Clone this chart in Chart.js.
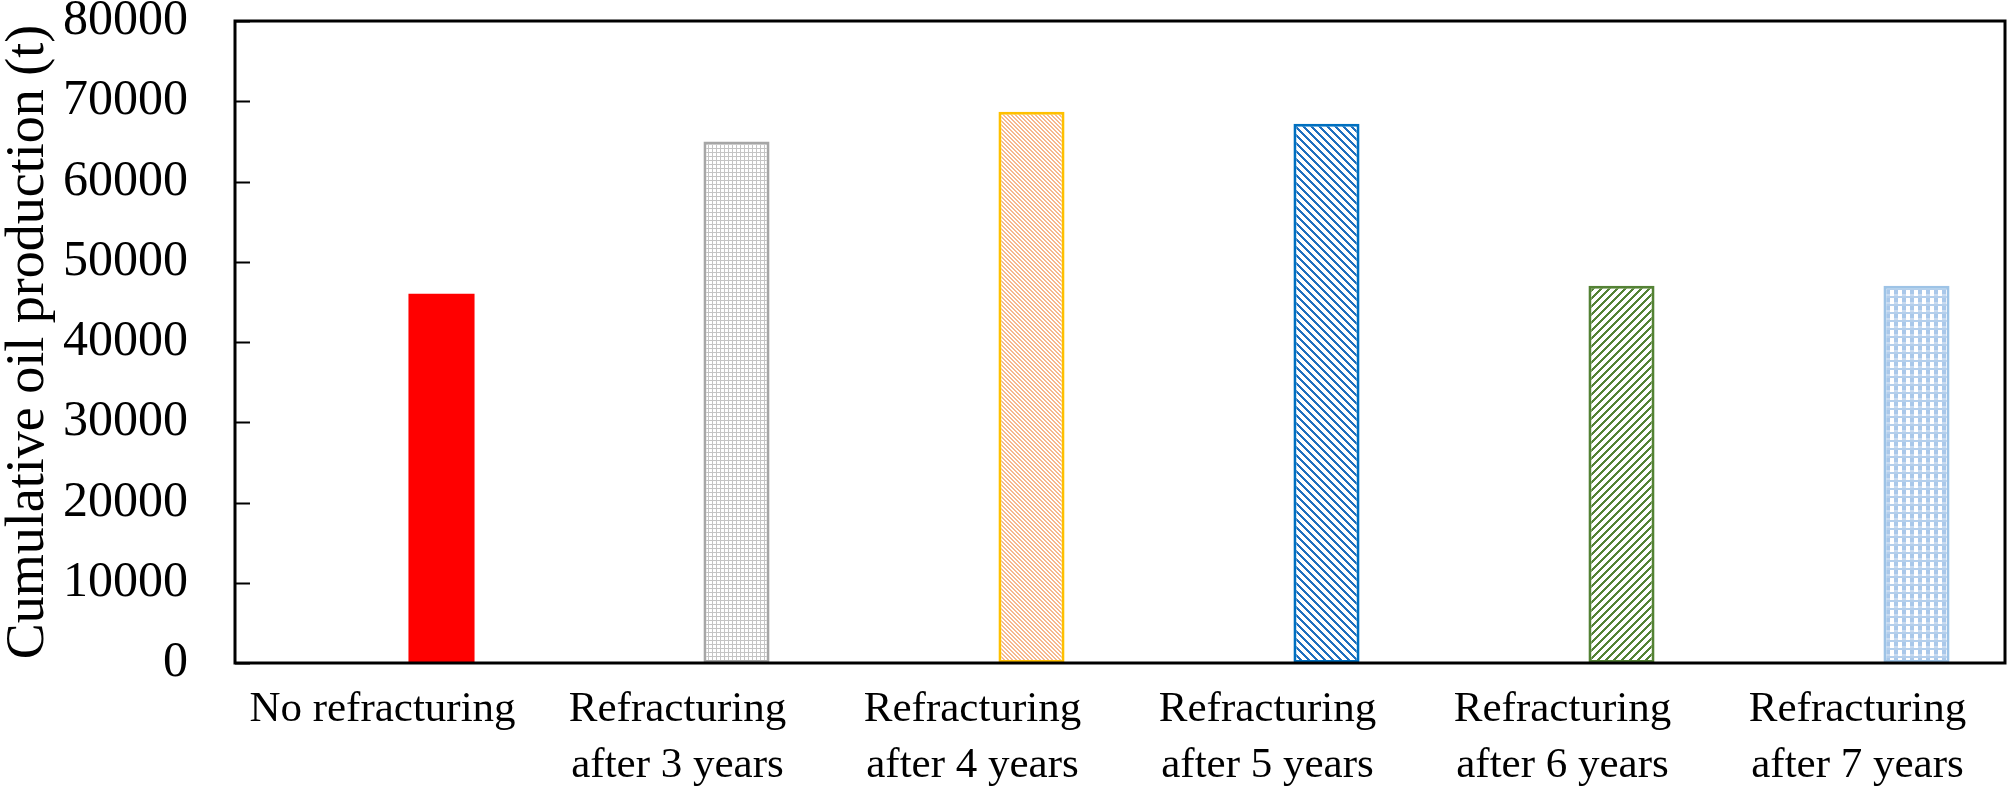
<!DOCTYPE html>
<html>
<head>
<meta charset="utf-8">
<script src="https://cdn.jsdelivr.net/npm/chart.js@4.4.0/dist/chart.umd.min.js"></script>
<style>
  html, body { margin: 0; padding: 0; background: #ffffff; }
  #wrap { width: 2008px; height: 789px; position: relative; }
</style>
</head>
<body>
<div id="wrap"><canvas id="c" width="2008" height="789"></canvas></div>
<script>
// ---- data ----
const categories = [
  ['No refracturing'],
  ['Refracturing', 'after 3 years'],
  ['Refracturing', 'after 4 years'],
  ['Refracturing', 'after 5 years'],
  ['Refracturing', 'after 6 years'],
  ['Refracturing', 'after 7 years']
];
const cumulativeOil = [46000, 65000, 68700, 67200, 47000, 47000];
const spacerSeries = [null, null, null, null, null, null];
const yTicks = [0, 10000, 20000, 30000, 40000, 50000, 60000, 70000, 80000];
const yTitle = 'Cumulative oil production (t)';

// ---- patterns ----
function makePattern(size, bg, painter) {
  const c = document.createElement('canvas');
  c.width = size; c.height = size;
  const g = c.getContext('2d');
  g.fillStyle = bg; g.fillRect(0, 0, size, size);
  for (let y = 0; y < size; y++) {
    for (let x = 0; x < size; x++) {
      const col = painter(x, y);
      if (col) { g.fillStyle = col; g.fillRect(x, y, 1, 1); }
    }
  }
  return g.createPattern(c, 'repeat');
}
const ctx = document.getElementById('c').getContext('2d');
const patGrid = makePattern(4, '#ffffff', (x, y) => (x === 0 || y === 0) ? '#c4c4c4' : null);
const patOrange = makePattern(4, '#ffffff', (x, y) => (((x - y) % 4 + 4) % 4 < 2) ? '#f6b88e' : null);
const patBlue = makePattern(8, '#ffffff', (x, y) => (((x - y) % 8 + 8) % 8 < 3) ? '#1f6fbf' : null);
const patGreen = makePattern(8, '#ffffff', (x, y) => ((x + y) % 8 < 3) ? '#548235' : null);
const patLightBlue = makePattern(8, '#ffffff', (x, y) => {
  if (y < 2) return '#b4cfec';
  if (x < 2 || x >= 6) return (y >= 6 ? '#c8dbf1' : '#a9c8ea');
  return null;
});

const fills = ['#ff0000', patGrid, patOrange, patBlue, patGreen, patLightBlue];
const borders = ['#ff0000', '#a6a6a6', '#ffc000', '#0070c0', '#548235', '#9dc3e6'];

// ---- plugins ----
const framePlugin = {
  id: 'frame',
  afterDraw(chart) {
    const a = chart.chartArea;
    const g = chart.ctx;
    const ys = chart.scales.y;
    g.save();
    g.strokeStyle = '#000000';
    g.lineWidth = 2;
    for (const v of yTicks) {
      const py = Math.round(ys.getPixelForValue(v)) + 0.5;
      g.beginPath(); g.moveTo(a.left, py); g.lineTo(a.left + 15, py); g.stroke();
    }
    g.lineWidth = 3;
    g.strokeRect(a.left, a.top, a.right - a.left, a.bottom - a.top);
    g.restore();
  }
};

new Chart(ctx, {
  type: 'bar',
  data: {
    labels: categories,
    datasets: [
      { label: 'spacer', data: spacerSeries, backgroundColor: 'rgba(0,0,0,0)' },
      {
        label: 'Cumulative oil production',
        data: cumulativeOil,
        backgroundColor: fills,
        borderColor: borders,
        borderWidth: [0, 3, 3, 3, 3, 3],
        borderSkipped: false
      }
    ]
  },
  plugins: [framePlugin],
  options: {
    responsive: false,
    animation: false,
    devicePixelRatio: 1,
    layout: { padding: { top: 21, right: 3, left: 0, bottom: 0 } },
    plugins: { legend: { display: false }, tooltip: { enabled: false } },
    datasets: { bar: { categoryPercentage: 0.8, barPercentage: 0.56 } },
    scales: {
      x: {
        grid: { display: false, drawTicks: false },
        border: { display: false },
        ticks: {
          color: '#000000',
          padding: 18,
          maxRotation: 0,
          autoSkip: false,
          font: { family: "'Liberation Serif', 'Times New Roman', serif", size: 43, lineHeight: 1.32 }
        },
        afterFit(s) { s.height = 126; s.paddingLeft = 0; s.paddingRight = 0; }
      },
      y: {
        min: 0, max: 80000,
        afterBuildTicks(s) { s.ticks = yTicks.map(v => ({ value: v })); },
        grid: { display: false, drawTicks: false },
        border: { display: false },
        ticks: {
          color: '#000000',
          padding: 47,
          font: { family: "'Liberation Serif', 'Times New Roman', serif", size: 50 },
          callback: v => String(v)
        },
        title: {
          display: true,
          text: yTitle,
          color: '#000000',
          padding: 0,
          font: { family: "'Liberation Serif', 'Times New Roman', serif", size: 54, lineHeight: 1.05 }
        },
        afterFit(s) { s.width = 235; s.paddingTop = 0; s.paddingBottom = 0; }
      }
    }
  }
});
</script>
</body>
</html>
